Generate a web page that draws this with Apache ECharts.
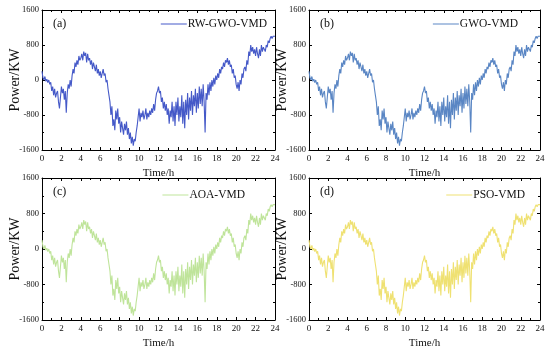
<!DOCTYPE html>
<html><head><meta charset="utf-8">
<script src="https://cdn.jsdelivr.net/npm/echarts@6/dist/echarts.min.js"></script>
<style>html,body{margin:0;padding:0;background:#fff}#c{width:550px;height:354px}</style>
</head><body><div id="c"></div>
<script>
// time axis in hours, one value every 0.1 h
const hours = [];
for (let i = 0; i <= 240; i++) hours.push(+(i / 10).toFixed(1));
const xTicks = [0, 2, 4, 6, 8, 10, 12, 14, 16, 18, 20, 22, 24];
const yTicks = [-1600, -800, 0, 800, 1600];
const panelLabels = ['(a)', '(b)', '(c)', '(d)'];
const seriesNames = ['RW-GWO-VMD', 'GWO-VMD', 'AOA-VMD', 'PSO-VMD'];
const seriesColors = ['#4559c8', '#5a86c4', '#bfe49a', '#efe172'];
// reconstructed power (KW)
const powerKW = [
  200, 50, 0, 80, -30, 20, -60, 0, -100, -50,
  -250, -150, -350, -200, -400, -300, -250, -500, -650, -400,
  -150, -300, -200, -450, -250, -750, -300, -100, -200, 0,
  -150, 100, 250, 150, 400, 300, 450, 350, 550, 450,
  500, 600, 450, 650, 550, 620, 400, 600, 450, 500,
  350, 450, 250, 400, 300, 200, 350, 150, 250, 100,
  200, 50, 150, 250, 100, 150, -50, 0, -200, -350,
  -500, -800, -600, -1050, -900, -1150, -700, -900, -650, -1000,
  -850, -1200, -950, -1100, -1250, -1000, -1150, -950, -1250, -1100,
  -1350, -1200, -1450, -1300, -1500, -1350, -1400, -1200, -1050, -850,
  -650, -950, -750, -850, -700, -900, -800, -650, -900, -750,
  -850, -700, -800, -650, -750, -550, -700, -450, -300, -250,
  -150, -300, -250, -500, -400, -650, -500, -700, -550, -800,
  -650, -1000, -700, -850, -500, -950, -600, -1050, -500, -800,
  -400, -950, -600, -850, -350, -1000, -500, -1100, -450, -800,
  -300, -900, -400, -700, -250, -800, -350, -600, -200, -750,
  -300, -650, -150, -550, -200, -600, -100, -500, -1200, -300,
  -450, -100, -350, -50, -250, 0, -150, 50, -100, 100,
  0, 150, 50, 250, 150, 300, 250, 400, 300, 450,
  400, 500, 350, 450, 300, 350, 150, 250, 50, 100,
  -100, -200, -50, -250, 0, -100, 150, 50, 250, 300,
  200, 450, 350, 650, 550, 800, 650, 750, 600, 700,
  550, 750, 600, 500, 700, 550, 800, 650, 750, 700,
  650, 800, 750, 900, 850, 950, 1000, 950, 1000, 1000,
  1000
];

const FONT = 'Liberation Serif';
const grids = [
  {left: 42, top: 10, width: 233, height: 140},
  {left: 309, top: 10, width: 231, height: 140},
  {left: 42, top: 178, width: 233, height: 142},
  {left: 309, top: 178, width: 231, height: 142}
];
const legendRight = [278, 27, 300, 20];
const legendTop = [13, 13, 184, 184];

const option = {
  backgroundColor: '#fff',
  animation: false,
  grid: grids.map(g => Object.assign({containLabel: false}, g)),
  xAxis: [], yAxis: [], series: [], legend: [], graphic: []
};
const axisLine = {show: true, onZero: false, lineStyle: {color: '#000', width: 1}};
const tick = {inside: true, length: 3, lineStyle: {color: '#000'}};
const minor = {show: true, splitNumber: 2, length: 2, lineStyle: {color: '#000'}};
for (let p = 0; p < 4; p++) {
  option.xAxis.push({
    type: 'value', gridIndex: p, min: xTicks[0], max: xTicks[xTicks.length - 1], interval: 2,
    name: 'Time/h', nameLocation: 'middle', nameGap: 18, nameMoveOverlap: false,
    nameTextStyle: {fontFamily: FONT, fontSize: 11, color: '#111'},
    axisLine: axisLine, axisTick: tick, minorTick: minor,
    axisLabel: {fontFamily: FONT, fontSize: 9, color: '#111', margin: 4},
    splitLine: {show: false}
  });
  option.xAxis.push({
    type: 'value', gridIndex: p, position: 'top', min: 0, max: 24, interval: 2,
    axisLine: axisLine, axisTick: tick, minorTick: minor,
    axisLabel: {show: false}, splitLine: {show: false}
  });
  option.yAxis.push({
    type: 'value', gridIndex: p, min: yTicks[0], max: yTicks[yTicks.length - 1], interval: 800,
    name: 'Power/KW', nameLocation: 'middle', nameGap: 20, nameMoveOverlap: false,
    nameTextStyle: {fontFamily: FONT, fontSize: 14, color: '#111'},
    axisLine: axisLine, axisTick: tick, minorTick: minor,
    axisLabel: {fontFamily: FONT, fontSize: 8.5, color: '#111', margin: 3, formatter: v => String(v)},
    splitLine: {show: false}
  });
  option.yAxis.push({
    type: 'value', gridIndex: p, position: 'right', min: -1600, max: 1600, interval: 800,
    axisLine: axisLine, axisTick: tick, minorTick: minor,
    axisLabel: {show: false}, splitLine: {show: false}
  });
  option.series.push({
    type: 'line', name: seriesNames[p], xAxisIndex: 2 * p, yAxisIndex: 2 * p,
    data: hours.map((h, i) => [h, powerKW[i]]),
    showSymbol: false, symbol: 'none',
    lineStyle: {color: seriesColors[p], width: 1.1}, itemStyle: {color: seriesColors[p]}
  });
  option.legend.push({
    data: [{name: seriesNames[p], icon: 'rect'}],
    right: legendRight[p], top: legendTop[p], itemWidth: 26, itemHeight: 1, itemGap: 2,
    textStyle: {fontFamily: FONT, fontSize: 11.5, color: '#111', padding: [0, 0, 0, -4]}
  });
  option.graphic.push({
    type: 'text', left: grids[p].left + 11, top: grids[p].top + 8,
    style: {text: panelLabels[p], font: '12px ' + FONT, fill: '#111'}
  });
}
const chart = echarts.init(document.getElementById('c'), null, {renderer: 'canvas'});
chart.setOption(option);
</script></body></html>
